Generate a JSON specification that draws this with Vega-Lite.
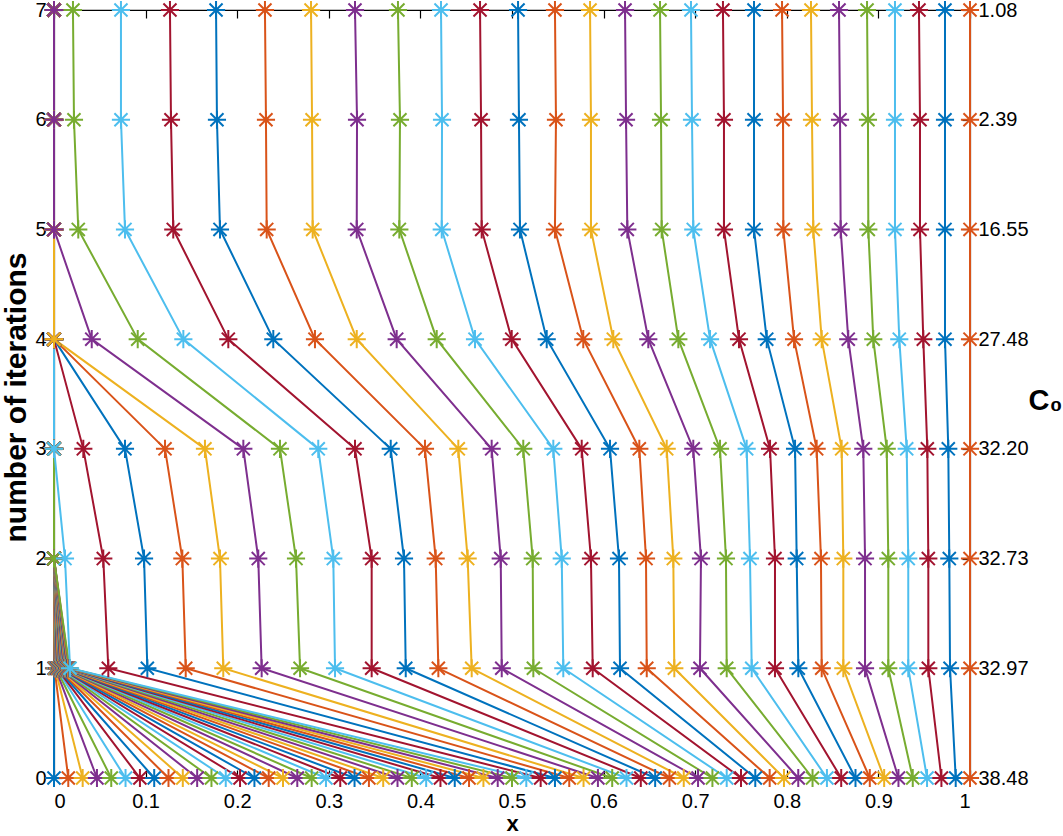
{
  "$schema": "https://vega.github.io/schema/vega-lite/v6.json",
  "width": 916,
  "height": 768,
  "autosize": {"type": "none"},
  "padding": {"left": 54, "top": 10, "right": 93, "bottom": 58},
  "background": "white",
  "config": {
    "view": {"stroke": "#000", "strokeWidth": 1.2},
    "font": "Liberation Sans",
    "axis": {"grid": false, "domainColor": "#000", "tickColor": "#000", "labelColor": "#000", "titleColor": "#000", "labelFont": "Liberation Sans", "titleFont": "Liberation Sans", "labelFontSize": 20, "domainWidth": 1.2, "tickWidth": 1.2}
  },
  "data": {"values": [
    {"l":0,"it":[0,1,2,3,4,5,6,7],"x":[0,0,0,0,0,0,0,0]},
    {"l":1,"it":[0,1,2,3,4,5,6,7],"x":[0.0156,0.0005,0,0,0,0,0,0]},
    {"l":2,"it":[0,1,2,3,4,5,6,7],"x":[0.0313,0.0011,0,0,0,0,0,0]},
    {"l":3,"it":[0,1,2,3,4,5,6,7],"x":[0.0469,0.0016,0,0,0,0,0,0]},
    {"l":4,"it":[0,1,2,3,4,5,6,7],"x":[0.0625,0.0021,0,0,0,0,0,0]},
    {"l":5,"it":[0,1,2,3,4,5,6,7],"x":[0.0781,0.0027,0,0,0,0,0,0]},
    {"l":6,"it":[0,1,2,3,4,5,6,7],"x":[0.0938,0.0032,0,0,0,0,0,0]},
    {"l":7,"it":[0,1,2,3,4,5,6,7],"x":[0.1094,0.0037,0,0,0,0,0,0]},
    {"l":8,"it":[0,1,2,3,4,5,6,7],"x":[0.125,0.0042,0,0,0,0,0,0]},
    {"l":9,"it":[0,1,2,3,4,5,6,7],"x":[0.1406,0.0048,0,0,0,0,0,0]},
    {"l":10,"it":[0,1,2,3,4,5,6,7],"x":[0.1563,0.0053,0,0,0,0,0,0]},
    {"l":11,"it":[0,1,2,3,4,5,6,7],"x":[0.1719,0.0058,0,0,0,0,0,0]},
    {"l":12,"it":[0,1,2,3,4,5,6,7],"x":[0.1875,0.0064,0,0,0,0,0,0]},
    {"l":13,"it":[0,1,2,3,4,5,6,7],"x":[0.2031,0.0069,0,0,0,0,0,0]},
    {"l":14,"it":[0,1,2,3,4,5,6,7],"x":[0.2188,0.0074,0,0,0,0,0,0]},
    {"l":15,"it":[0,1,2,3,4,5,6,7],"x":[0.2344,0.008,0,0,0,0,0,0]},
    {"l":16,"it":[0,1,2,3,4,5,6,7],"x":[0.25,0.0085,0,0,0,0,0,0]},
    {"l":17,"it":[0,1,2,3,4,5,6,7],"x":[0.2656,0.009,0,0,0,0,0,0]},
    {"l":18,"it":[0,1,2,3,4,5,6,7],"x":[0.2813,0.0095,0,0,0,0,0,0]},
    {"l":19,"it":[0,1,2,3,4,5,6,7],"x":[0.2969,0.0101,0,0,0,0,0,0]},
    {"l":20,"it":[0,1,2,3,4,5,6,7],"x":[0.3125,0.0106,0,0,0,0,0,0]},
    {"l":21,"it":[0,1,2,3,4,5,6,7],"x":[0.3281,0.0111,0,0,0,0,0,0]},
    {"l":22,"it":[0,1,2,3,4,5,6,7],"x":[0.3438,0.0117,0,0,0,0,0,0]},
    {"l":23,"it":[0,1,2,3,4,5,6,7],"x":[0.3594,0.0122,0,0,0,0,0,0]},
    {"l":24,"it":[0,1,2,3,4,5,6,7],"x":[0.375,0.0127,0,0,0,0,0,0]},
    {"l":25,"it":[0,1,2,3,4,5,6,7],"x":[0.3906,0.0133,0,0,0,0,0,0]},
    {"l":26,"it":[0,1,2,3,4,5,6,7],"x":[0.4063,0.0138,0,0,0,0,0,0]},
    {"l":27,"it":[0,1,2,3,4,5,6,7],"x":[0.4219,0.0143,0,0,0,0,0,0]},
    {"l":28,"it":[0,1,2,3,4,5,6,7],"x":[0.4375,0.0148,0,0,0,0,0,0]},
    {"l":29,"it":[0,1,2,3,4,5,6,7],"x":[0.4531,0.0154,0,0,0,0,0,0]},
    {"l":30,"it":[0,1,2,3,4,5,6,7],"x":[0.4688,0.0159,0,0,0,0,0,0]},
    {"l":31,"it":[0,1,2,3,4,5,6,7],"x":[0.4844,0.0164,0,0,0,0,0,0]},
    {"l":32,"it":[0,1,2,3,4,5,6,7],"x":[0.5,0.017,0,0,0,0,0,0]},
    {"l":33,"it":[0,1,2,3,4,5,6,7],"x":[0.5156,0.0175,0.012,0,0,0,0,0]},
    {"l":34,"it":[0,1,2,3,4,5,6,7],"x":[0.5313,0.0593,0.0538,0.032,0,0,0,0]},
    {"l":35,"it":[0,1,2,3,4,5,6,7],"x":[0.5469,0.1019,0.0983,0.0775,0,0,0,0]},
    {"l":36,"it":[0,1,2,3,4,5,6,7],"x":[0.5625,0.1438,0.1401,0.1212,0,0,0,0]},
    {"l":37,"it":[0,1,2,3,4,5,6,7],"x":[0.5781,0.1848,0.1812,0.1648,0,0,0,0]},
    {"l":38,"it":[0,1,2,3,4,5,6,7],"x":[0.5938,0.2267,0.223,0.2067,0.0412,0,0,0]},
    {"l":39,"it":[0,1,2,3,4,5,6,7],"x":[0.6094,0.2686,0.2642,0.2467,0.0914,0.0265,0.0218,0.0207]},
    {"l":40,"it":[0,1,2,3,4,5,6,7],"x":[0.625,0.3068,0.3049,0.2885,0.1412,0.0775,0.0731,0.0731]},
    {"l":41,"it":[0,1,2,3,4,5,6,7],"x":[0.6406,0.3468,0.3468,0.3286,0.1903,0.1302,0.1277,0.1266]},
    {"l":42,"it":[0,1,2,3,4,5,6,7],"x":[0.6563,0.384,0.3821,0.3676,0.2394,0.1812,0.1779,0.1769]},
    {"l":43,"it":[0,1,2,3,4,5,6,7],"x":[0.6719,0.4196,0.4167,0.405,0.2849,0.2322,0.2314,0.2303]},
    {"l":44,"it":[0,1,2,3,4,5,6,7],"x":[0.6875,0.456,0.4516,0.4414,0.3305,0.2824,0.2817,0.2806]},
    {"l":45,"it":[0,1,2,3,4,5,6,7],"x":[0.7031,0.4888,0.4877,0.4778,0.3741,0.3305,0.3308,0.3286]},
    {"l":46,"it":[0,1,2,3,4,5,6,7],"x":[0.7188,0.5233,0.5226,0.5123,0.4178,0.377,0.3777,0.3755]},
    {"l":47,"it":[0,1,2,3,4,5,6,7],"x":[0.7344,0.556,0.5543,0.5451,0.4596,0.4233,0.4236,0.4225]},
    {"l":48,"it":[0,1,2,3,4,5,6,7],"x":[0.75,0.5881,0.5862,0.5761,0.4997,0.4669,0.4662,0.4651]},
    {"l":49,"it":[0,1,2,3,4,5,6,7],"x":[0.7656,0.6179,0.6168,0.607,0.5379,0.5087,0.5076,0.5066]},
    {"l":50,"it":[0,1,2,3,4,5,6,7],"x":[0.7813,0.6471,0.6463,0.639,0.5778,0.5469,0.548,0.5469]},
    {"l":51,"it":[0,1,2,3,4,5,6,7],"x":[0.7969,0.6772,0.6761,0.6689,0.6106,0.5862,0.5862,0.5852]},
    {"l":52,"it":[0,1,2,3,4,5,6,7],"x":[0.8125,0.7052,0.7063,0.6979,0.6488,0.6259,0.6245,0.6234]},
    {"l":53,"it":[0,1,2,3,4,5,6,7],"x":[0.8281,0.7344,0.7336,0.7271,0.6816,0.6634,0.6627,0.6616]},
    {"l":54,"it":[0,1,2,3,4,5,6,7],"x":[0.8438,0.7617,0.7598,0.7562,0.7162,0.6979,0.6965,0.6954]},
    {"l":55,"it":[0,1,2,3,4,5,6,7],"x":[0.8594,0.7871,0.7871,0.7817,0.7478,0.7314,0.7314,0.7303]},
    {"l":56,"it":[0,1,2,3,4,5,6,7],"x":[0.875,0.8126,0.8108,0.809,0.7781,0.7642,0.7642,0.7642]},
    {"l":57,"it":[0,1,2,3,4,5,6,7],"x":[0.8906,0.8381,0.8373,0.8326,0.8079,0.7962,0.7959,0.7948]},
    {"l":58,"it":[0,1,2,3,4,5,6,7],"x":[0.9063,0.8617,0.8617,0.8599,0.8381,0.8289,0.8275,0.8264]},
    {"l":59,"it":[0,1,2,3,4,5,6,7],"x":[0.9219,0.8854,0.8854,0.8835,0.8671,0.8588,0.8581,0.857]},
    {"l":60,"it":[0,1,2,3,4,5,6,7],"x":[0.9375,0.9108,0.9108,0.9091,0.8944,0.889,0.8886,0.8876]},
    {"l":61,"it":[0,1,2,3,4,5,6,7],"x":[0.9531,0.9326,0.9326,0.9309,0.9228,0.9181,0.9181,0.9181]},
    {"l":62,"it":[0,1,2,3,4,5,6,7],"x":[0.9688,0.9545,0.9545,0.9534,0.949,0.9454,0.9454,0.9443]},
    {"l":63,"it":[0,1,2,3,4,5,6,7],"x":[0.9844,0.9782,0.9774,0.9763,0.9727,0.9727,0.9727,0.9727]},
    {"l":64,"it":[0,1,2,3,4,5,6,7],"x":[1,1,1,1,1,1,1,1]}
  ]},
  "transform": [{"flatten": ["it", "x"]}],
  "layer": [
    {
      "mark": {"type": "line", "strokeWidth": 2},
      "encoding": {
        "x": {"field": "x", "type": "quantitative", "scale": {"domain": [0, 1], "nice": false, "zero": false},
              "axis": {"orient": "bottom", "values": [0,0.1,0.2,0.3,0.4,0.5,0.6,0.7,0.8,0.9,1], "format": "~g", "tickSize": -8, "labelPadding": 21, "title": "x", "titleFontSize": 22, "titleFontWeight": "bold", "titleBaseline": "middle", "titleY": 45, "titleX": 458}},
        "y": {"field": "it", "type": "quantitative", "scale": {"domain": [0, 7], "nice": false},
              "axis": {"orient": "left", "values": [0,1,2,3,4,5,6,7], "tickSize": -8, "labelPadding": 16, "title": "number of iterations", "titleFontSize": 30, "titleFontWeight": "bold", "titleAngle": -90, "titleBaseline": "middle", "titleAlign": "center", "titleX": -38, "titleY": 387}},
        "color": {"field": "l", "type": "ordinal", "scale": {"range": ["#0072BD","#D95319","#EDB120","#7E2F8E","#77AC30","#4DBEEE","#A2142F"]}, "legend": null},
        "detail": {"field": "l"},
        "order": {"field": "it"}
      }
    },
    {
      "mark": {"type": "point", "shape": "M-1,0L1,0M0,-1L0,1M-0.72,-0.72L0.72,0.72M-0.72,0.72L0.72,-0.72", "size": 330, "strokeWidth": 2, "filled": false, "opacity": 1},
      "encoding": {
        "x": {"field": "x", "type": "quantitative", "scale": {"domain": [0, 1], "nice": false, "zero": false},
              "axis": {"orient": "top", "values": [0,0.1,0.2,0.3,0.4,0.5,0.6,0.7,0.8,0.9,1], "tickSize": -8, "labels": false, "title": null}},
        "y": {"field": "it", "type": "quantitative", "scale": {"domain": [0, 7], "nice": false},
              "axis": {"orient": "right", "values": [0,1,2,3,4,5,6,7], "tickSize": -8, "labelPadding": 16, "labelFontSize": 20,
                       "labelExpr": "datum.value == 0 ? '38.48' : datum.value == 1 ? '32.97' : datum.value == 2 ? '32.73' : datum.value == 3 ? '32.20' : datum.value == 4 ? '27.48' : datum.value == 5 ? '16.55' : datum.value == 6 ? '2.39' : '1.08'",
                       "title": "C₀", "titleFontSize": 29, "titleFontWeight": "bold", "titleAngle": 0, "titleAlign": "left", "titleBaseline": "middle", "titleX": 58, "titleY": 390}},
        "color": {"field": "l", "type": "ordinal", "scale": {"range": ["#0072BD","#D95319","#EDB120","#7E2F8E","#77AC30","#4DBEEE","#A2142F"]}, "legend": null}
      }
    }
  ],
  "resolve": {"axis": {"x": "independent", "y": "independent"}}
}
